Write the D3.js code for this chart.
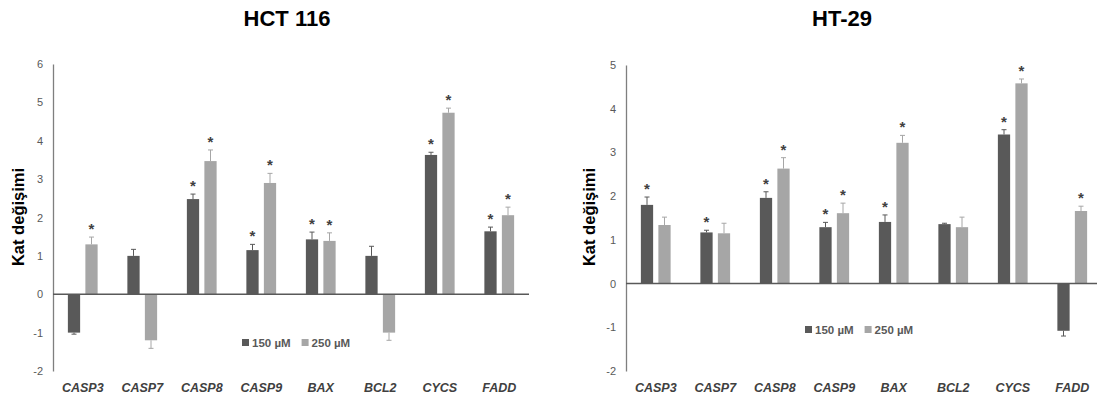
<!DOCTYPE html>
<html>
<head>
<meta charset="utf-8">
<script src="https://cdn.jsdelivr.net/npm/d3@7"></script>
<style>
  html, body { margin: 0; padding: 0; background: #fff; }
  svg { display: block; font-family: "Liberation Sans", Arial, sans-serif; }
</style>
</head>
<body>
<div id="chart"></div>
<script>
const genes = ["CASP3", "CASP7", "CASP8", "CASP9", "BAX", "BCL2", "CYCS", "FADD"];
const doses = ["150 µM", "250 µM"];

// HCT 116
const hct150 = [-1.0, 1.0, 2.48, 1.15, 1.43, 1.0, 3.63, 1.64];
const hct250 = [1.3, -1.2, 3.47, 2.9, 1.39, -1.0, 4.73, 2.06];
const hct150Err = [0.04, 0.17, 0.13, 0.15, 0.19, 0.25, 0.07, 0.11];
const hct250Err = [0.19, 0.21, 0.29, 0.25, 0.21, 0.2, 0.12, 0.21];
const hct150Sig = [0, 0, 1, 1, 1, 0, 1, 1];
const hct250Sig = [1, 0, 1, 1, 1, 0, 1, 1];
const hctTicks = [-2, -1, 0, 1, 2, 3, 4, 5, 6];

// HT-29
const ht150 = [1.8, 1.17, 1.96, 1.29, 1.41, 1.36, 3.41, -1.08];
const ht250 = [1.34, 1.15, 2.63, 1.61, 3.22, 1.29, 4.58, 1.66];
const ht150Err = [0.18, 0.05, 0.14, 0.11, 0.16, 0.02, 0.11, 0.12];
const ht250Err = [0.18, 0.23, 0.25, 0.23, 0.17, 0.23, 0.1, 0.11];
const ht150Sig = [1, 1, 1, 1, 1, 0, 1, 0];
const ht250Sig = [0, 0, 1, 1, 1, 0, 1, 1];
const htTicks = [-2, -1, 0, 1, 2, 3, 4, 5];

const colors = ["#595959", "#a6a6a6"];
const W = 1097, H = 403;

const svg = d3.select("#chart").append("svg")
    .attr("width", W)
    .attr("height", H);

function drawPanel(p) {
    const g = svg.append("g");
    const x = d3.scaleBand().domain(genes).range([p.x0, p.x1]).paddingInner(0.5).paddingOuter(0.25);
    const xs = d3.scaleBand().domain(doses).range([0, x.bandwidth()]).paddingInner(0.3);
    const y = d3.scaleLinear().domain([p.ticks[0], p.ticks[p.ticks.length - 1]]).range([371, p.top]);

    g.append("text")
        .attr("x", p.titleX).attr("y", 26)
        .attr("text-anchor", "middle")
        .attr("font-size", 22).attr("font-weight", "bold")
        .attr("fill", "#000")
        .text(p.title);

    g.append("text")
        .attr("transform", `translate(${p.labX},217) rotate(-90)`)
        .attr("text-anchor", "middle")
        .attr("font-size", 16.5).attr("font-weight", "bold")
        .attr("fill", "#000")
        .text("Kat değişimi");

    // y axis
    const yAxis = g.append("g")
        .attr("transform", `translate(${p.x0},0)`)
        .call(d3.axisLeft(y).tickValues(p.ticks).tickSize(0).tickPadding(10).tickFormat(d => String(d)));
    yAxis.select(".domain").attr("stroke", "#7f7f7f").attr("stroke-width", 1.3);
    yAxis.selectAll("text").attr("font-size", 11).attr("fill", "#595959")
        .attr("font-family", "Liberation Sans, Arial, sans-serif");

    const series = [
        { key: doses[0], vals: p.v1, errs: p.e1, sig: p.s1 },
        { key: doses[1], vals: p.v2, errs: p.e2, sig: p.s2 }
    ];

    series.forEach((s, si) => {
        const data = genes.map((gene, i) => ({ gene, v: s.vals[i], e: s.errs[i], sig: s.sig[i] }));
        const bx = d => x(d.gene) + xs(s.key);
        const grp = g.append("g");
        grp.selectAll("rect").data(data).join("rect")
            .attr("x", bx)
            .attr("width", xs.bandwidth())
            .attr("y", d => y(Math.max(0, d.v)))
            .attr("height", d => Math.abs(y(d.v) - y(0)))
            .attr("fill", colors[si]);

        const errEnd = d => d.v >= 0 ? d.v + d.e : d.v - d.e;
        grp.selectAll("line.err").data(data).join("line")
            .attr("class", "err")
            .attr("x1", d => bx(d) + xs.bandwidth() / 2)
            .attr("x2", d => bx(d) + xs.bandwidth() / 2)
            .attr("y1", d => y(d.v))
            .attr("y2", d => y(errEnd(d)))
            .attr("stroke", colors[si]).attr("stroke-width", 1);
        grp.selectAll("line.cap").data(data).join("line")
            .attr("class", "cap")
            .attr("x1", d => bx(d) + xs.bandwidth() / 2 - 2.5)
            .attr("x2", d => bx(d) + xs.bandwidth() / 2 + 2.5)
            .attr("y1", d => y(errEnd(d)))
            .attr("y2", d => y(errEnd(d)))
            .attr("stroke", colors[si]).attr("stroke-width", 1);

        grp.selectAll("text.star").data(data.filter(d => d.sig)).join("text")
            .attr("class", "star")
            .attr("x", d => bx(d) + xs.bandwidth() / 2)
            .attr("y", d => y(errEnd(d)) - 3)
            .attr("text-anchor", "middle")
            .attr("font-size", 15).attr("font-weight", "bold")
            .attr("fill", "#404040")
            .text("*");
    });

    // zero line
    g.append("line")
        .attr("x1", p.x0).attr("x2", Math.min(p.x1, W))
        .attr("y1", y(0)).attr("y2", y(0))
        .attr("stroke", "#595959").attr("stroke-width", 1.5);

    // category labels
    g.selectAll("text.cat").data(genes).join("text")
        .attr("class", "cat")
        .attr("x", d => x(d) + x.bandwidth() / 2)
        .attr("y", 392)
        .attr("text-anchor", "middle")
        .attr("font-size", 12.5).attr("font-weight", "bold").attr("font-style", "italic")
        .attr("fill", "#404040")
        .text(d => d);

    // legend
    const lg = g.append("g").attr("transform", `translate(${p.legX},${p.legY})`);
    let lx = 0;
    doses.forEach((d, i) => {
        lg.append("rect").attr("x", lx).attr("y", -8).attr("width", 7).attr("height", 7).attr("fill", colors[i]);
        const t = lg.append("text").attr("x", lx + 10).attr("y", 0)
            .attr("font-size", 11.5).attr("font-weight", "bold").attr("fill", "#595959")
            .text(d);
        lx += 10 + t.node().getComputedTextLength() + 11;
    });
}

drawPanel({
    title: "HCT 116", titleX: 287, x0: 53, x1: 529, top: 64, ticks: hctTicks, labX: 24,
    v1: hct150, v2: hct250, e1: hct150Err, e2: hct250Err, s1: hct150Sig, s2: hct250Sig,
    legX: 242, legY: 347
});

drawPanel({
    title: "HT-29", titleX: 842, x0: 626, x1: 1102, top: 65, ticks: htTicks, labX: 595,
    v1: ht150, v2: ht250, e1: ht150Err, e2: ht250Err, s1: ht150Sig, s2: ht250Sig,
    legX: 805, legY: 334
});
</script>
</body>
</html>
